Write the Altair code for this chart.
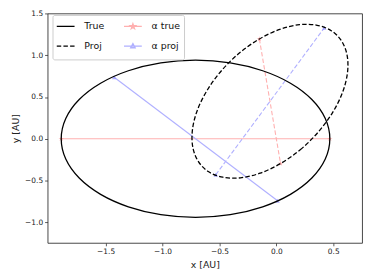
import altair as alt
import pandas as pd

# ---- data (AU) ----
true_x = [0.470, 0.430, 0.312, 0.124, -0.120, -0.405, -0.710, -1.015, -1.300, -1.544, -1.732, -1.850,
          -1.890, -1.850, -1.732, -1.544, -1.300, -1.015, -0.710, -0.405, -0.120, 0.124, 0.312, 0.430]
true_y = [0.000, 0.243, 0.470, 0.665, 0.814, 0.908, 0.940, 0.908, 0.814, 0.665, 0.470, 0.243,
          0.000, -0.243, -0.470, -0.665, -0.814, -0.908, -0.940, -0.908, -0.814, -0.665, -0.470, -0.243]
proj_x = [0.037, 0.210, 0.364, 0.490, 0.579, 0.624, 0.623, 0.576, 0.486, 0.358, 0.203, 0.030,
          -0.149, -0.322, -0.476, -0.602, -0.691, -0.736, -0.735, -0.688, -0.598, -0.470, -0.315, -0.142]
proj_y = [-0.296, -0.131, 0.074, 0.305, 0.545, 0.779, 0.990, 1.164, 1.290, 1.358, 1.365, 1.309,
          1.194, 1.029, 0.824, 0.593, 0.353, 0.119, -0.092, -0.266, -0.392, -0.460, -0.467, -0.411]

a_true_true_x = [-1.890, 0.470]
a_true_true_y = [0.000, 0.000]
a_true_proj_x = [-0.149, 0.037]
a_true_proj_y = [1.194, -0.296]
a_proj_true_x = [-1.425, 0.011]
a_proj_true_y = [0.736, -0.741]
a_proj_proj_x = [-0.532, 0.421]
a_proj_proj_y = [-0.430, 1.327]

legend_names = ["True", "Proj", "α true", "α proj"]   # column-major order for 2 columns
legend_colors = ["#000000", "#000000", "#ffb0b0", "#b0b0ff"]

x_ticks = [-1.5, -1.0, -0.5, 0.0, 0.5]
y_ticks = [-1.0, -0.5, 0.0, 0.5, 1.0, 1.5]
x_domain = [-2.01, 0.753]
y_domain = [-1.245, 1.5]

# ---- glyphs ----
STAR_MARK = ("M0,-1L0.2245,-0.309L0.951,-0.309L0.363,0.118L0.588,0.809L0,0.382"
             "L-0.588,0.809L-0.363,0.118L-0.951,-0.309L-0.2245,-0.309Z")
BOX = "M0,-1M0,1"   # invisible extent: fixes legend row height
LINE = BOX + "M-1.25,0L1.25,0"
DASH = BOX + "M-1.25,0L-0.625,0M-0.3125,0L0.3125,0M0.625,0L1.25,0"
STAR = ("M0,-0.375L0.0843,-0.1159L0.3566,-0.1159L0.1361,0.0443L0.2205,0.3034L0,0.1433"
        "L-0.2205,0.3034L-0.1361,0.0443L-0.3566,-0.1159L-0.0843,-0.1159Z")
TRI = "M0,-0.3375L0.3125,0.2375L-0.3125,0.2375Z"
legend_shapes = [LINE, DASH, LINE + STAR, LINE + TRI]

# ---- frames ----
def closed(xs, ys):
    return pd.DataFrame({"x": xs, "y": ys, "i": list(range(len(xs)))})

def seg(xs, ys, series):
    return pd.DataFrame({"x": xs, "y": ys, "series": [series] * len(xs), "i": [0, 1]})

df_true = closed(true_x, true_y)
df_proj = closed(proj_x, proj_y)
df_att = seg(a_true_true_x, a_true_true_y, "α true")
df_atp = seg(a_true_proj_x, a_true_proj_y, "α true")
df_apt = seg(a_proj_true_x, a_proj_true_y, "α proj")
df_app = seg(a_proj_proj_x, a_proj_proj_y, "α proj")
df_red_pts = pd.concat([df_att, df_atp], ignore_index=True)
df_blue_pts = pd.concat([df_apt, df_app], ignore_index=True)
df_all_pts = pd.concat([df_red_pts, df_blue_pts], ignore_index=True)

X = alt.X("x:Q", scale=alt.Scale(domain=x_domain, nice=False, zero=False),
          axis=alt.Axis(values=x_ticks, format=".1f", title="x [AU]"))
Y = alt.Y("y:Q", scale=alt.Scale(domain=y_domain, nice=False, zero=False),
          axis=alt.Axis(values=y_ticks, format=".1f", title="y [AU]"))

def seg_layer(df, color, dash=None):
    kw = dict(color=color, strokeWidth=1.1)
    if dash:
        kw["strokeDash"] = dash
    return alt.Chart(df).mark_line(**kw).encode(x=X, y=Y, order="i:Q")

lines = [
    seg_layer(df_att, "#ffb0b0"),
    seg_layer(df_atp, "#ffb0b0", [4.5, 2.2]),
    seg_layer(df_apt, "#b0b0ff"),
    seg_layer(df_app, "#b0b0ff", [4.5, 2.2]),
]

red_markers = alt.Chart(df_red_pts).mark_point(shape=STAR_MARK, filled=True, size=32,
                                               color="#ff9090").encode(x=X, y=Y)
blue_markers = alt.Chart(df_blue_pts).mark_point(shape="triangle-up", filled=True, size=20,
                                                 color="#9090ff").encode(x=X, y=Y)

true_ell = alt.Chart(df_true).mark_line(interpolate="cardinal-closed", color="black",
                                        strokeWidth=1.3).encode(x=X, y=Y, order="i:Q")
proj_ell = alt.Chart(df_proj).mark_line(interpolate="cardinal-closed", color="black",
                                        strokeWidth=1.3, strokeDash=[4.5, 2.2]).encode(x=X, y=Y, order="i:Q")

leg = alt.Legend(title=None, orient="none", legendX=5, legendY=1.5, columns=2,
                 columnPadding=17, rowPadding=0, symbolSize=207, symbolStrokeWidth=1.3,
                 symbolOffset=1.8, labelOffset=10.9,
                 labelFont="DejaVu Sans", labelFontSize=9.5, labelColor="#111111",
                 padding=3.5, strokeColor="#cccccc", fillColor="white",
                 cornerRadius=2, symbolOpacity=1)

carrier = alt.Chart(df_all_pts).mark_point(opacity=0, filled=False).encode(
    x=X, y=Y,
    color=alt.Color("series:N", scale=alt.Scale(domain=legend_names, range=legend_colors), legend=leg),
    shape=alt.Shape("series:N", scale=alt.Scale(domain=legend_names, range=legend_shapes), legend=leg),
)

chart = alt.layer(*lines, red_markers, blue_markers, true_ell, proj_ell, carrier).properties(
    width=318, height=232,
    autosize=alt.AutoSizeParams(type="none"),
    padding={"left": 40, "top": 4, "right": 4, "bottom": 28},
).configure_view(stroke="#333333", strokeWidth=0.9).configure_axis(
    domain=False, grid=False,
    labelFont="DejaVu Sans", labelFontSize=7.5, labelColor="#222222", labelPadding=2,
    tickSize=3, tickWidth=0.8, tickColor="#333333",
    titleFont="DejaVu Sans", titleFontSize=9.5, titleFontWeight="normal", titleColor="#222222",
    titlePadding=4,
)

chart.save("out.html", embed_options={"renderer": "svg", "actions": False})
